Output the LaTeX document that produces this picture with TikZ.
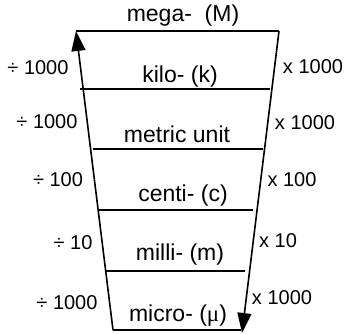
\documentclass[tikz,border=0pt]{standalone}
\usepackage{fontspec}
\setmainfont{Liberation Sans}
\newfontfamily\serifmu{Liberation Serif}
\usetikzlibrary{arrows.meta}
\tikzset{
  lbl/.style={inner sep=0pt, font=\fontsize{23}{26}\selectfont},
  slbl/.style={inner sep=0pt, font=\fontsize{20}{23}\selectfont},
  rung/.style={line width=1.6pt},
  side/.style={line width=1.6pt, -{Triangle[length=20pt,width=14pt]}},
}
\begin{document}
\begin{tikzpicture}[x=1pt,y=1pt]
\useasboundingbox (0,0) rectangle (348,333);
% corner coordinates (y measured upward)
\coordinate (tl) at (76,302);
\coordinate (tr) at (279,302);
\coordinate (bl) at (113,3);
\coordinate (br) at (242,0);
\coordinate (k1) at (80,244);  \coordinate (k2) at (270,244);
\coordinate (m1) at (93,184);  \coordinate (m2) at (263,184);
\coordinate (c1) at (99,123);  \coordinate (c2) at (253,123);
\coordinate (l1) at (106,62);  \coordinate (l2) at (245,62);
\coordinate (b1) at (113,3);   \coordinate (b2) at (241,3);
% lines
\draw[rung] (tl) -- (tr);
\draw[rung] (k1) -- (k2);
\draw[rung] (m1) -- (m2);
\draw[rung] (c1) -- (c2);
\draw[rung] (l1) -- (l2);
\draw[rung] (b1) -- (b2);
\draw[side] (bl) -- (tl);
\draw[side] (tr) -- (br);
% centre labels
\node[lbl] (mega) at (183,317) {mega-\ \ (M)};
\node[lbl] (kilo) at (180,256) {kilo-\ (k)};
\node[lbl] (metric) at (177,199) {metric unit};
\node[lbl] (centi) at (183,137) {centi-\ (c)};
\node[lbl] (milli) at (180,78) {milli-\ (m)};
\node[lbl] (micro) at (178,17) {micro-\ ({\serifmu μ})};
% left labels
\node[slbl] (d1) at (38,265) {÷ 1000};
\node[slbl] (d2) at (47,211) {÷ 1000};
\node[slbl] (d3) at (58,153) {÷ 100};
\node[slbl] (d4) at (73,90) {÷ 10};
\node[slbl] (d5) at (67,30) {÷ 1000};
% right labels
\node[slbl] (x1) at (313,266) {x 1000};
\node[slbl] (x2) at (305,210) {x 1000};
\node[slbl] (x3) at (292,153) {x 100};
\node[slbl] (x4) at (278,92) {x 10};
\node[slbl] (x5) at (282,35) {x 1000};
\end{tikzpicture}
\end{document}
